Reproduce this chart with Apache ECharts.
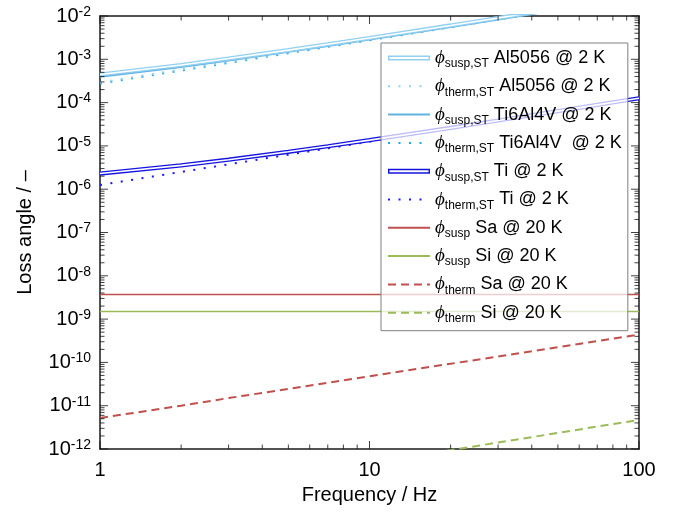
<!DOCTYPE html>
<html>
<head>
<meta charset="utf-8">
<script src="https://cdn.jsdelivr.net/npm/echarts@6/dist/echarts.min.js"></script>
<style>
  html, body { margin: 0; padding: 0; background: #ffffff; }
  #chart { width: 681px; height: 512px; }
</style>
</head>
<body>
<div id="chart"></div>
<script>
// Frequencies (Hz) at which every loss curve is sampled
const freq = [1, 2, 3, 5, 7, 10, 20, 30, 50, 70, 100];

// Suspension and thermoelastic loss angles of the suspension-thread metals at 2 K
const al5056Susp   = [4.45e-4, 7.4e-4, 1.04e-3, 1.63e-3, 2.22e-3, 3.1e-3, 6.05e-3, 9.0e-3, 1.49e-2, 2.08e-2, 2.97e-2];
const al5056Therm  = [2.9e-4, 5.8e-4, 8.7e-4, 1.45e-3, 2.03e-3, 2.9e-3, 5.8e-3, 8.7e-3, 1.45e-2, 2.03e-2, 2.9e-2];
const ti6al4vSusp  = [4.1e-4, 6.95e-4, 9.8e-4, 1.55e-3, 2.12e-3, 2.98e-3, 5.83e-3, 8.68e-3, 1.44e-2, 2.01e-2, 2.86e-2];
const ti6al4vTherm = [2.75e-4, 5.5e-4, 8.25e-4, 1.38e-3, 1.93e-3, 2.75e-3, 5.5e-3, 8.25e-3, 1.38e-2, 1.93e-2, 2.75e-2];
const tiSusp       = [2.3e-6, 3.55e-6, 4.8e-6, 7.3e-6, 9.8e-6, 1.36e-5, 2.6e-5, 3.85e-5, 6.35e-5, 8.85e-5, 1.26e-4];
const tiTherm      = [1.25e-6, 2.5e-6, 3.75e-6, 6.25e-6, 8.75e-6, 1.25e-5, 2.5e-5, 3.75e-5, 6.25e-5, 8.75e-5, 1.25e-4];

// Sapphire and silicon at 20 K
const saSusp  = [3.7e-9, 3.7e-9, 3.7e-9, 3.7e-9, 3.7e-9, 3.7e-9, 3.7e-9, 3.7e-9, 3.7e-9, 3.7e-9, 3.7e-9];
const siSusp  = [1.5e-9, 1.5e-9, 1.5e-9, 1.5e-9, 1.5e-9, 1.5e-9, 1.5e-9, 1.5e-9, 1.5e-9, 1.5e-9, 1.5e-9];
const saTherm = [5.2e-12, 1.0e-11, 1.5e-11, 2.45e-11, 3.4e-11, 4.8e-11, 9.3e-11, 1.37e-10, 2.25e-10, 3.1e-10, 4.4e-10];
const siTherm = [4.7e-14, 9.4e-14, 1.4e-13, 2.35e-13, 3.3e-13, 4.7e-13, 9.4e-13, 1.41e-12, 2.35e-12, 3.3e-12, 4.7e-12];

// Axis decades (exponents of ten) and their labels
const xDecades = [0, 1, 2];
const xTickLabels = ['1', '10', '100'];
const yDecades = [-12, -11, -10, -9, -8, -7, -6, -5, -4, -3, -2];
const yTickLabels = ['-12', '-11', '-10', '-9', '-8', '-7', '-6', '-5', '-4', '-3', '-2'];
const minorSteps = [2, 3, 4, 5, 6, 7, 8, 9];

// Legend entries: subscript and label
const legendSubs = ['susp,ST', 'therm,ST', 'susp,ST', 'therm,ST', 'susp,ST', 'therm,ST', 'susp', 'susp', 'therm', 'therm'];
const legendTexts = ['Al5056 @ 2 K', 'Al5056 @ 2 K', 'Ti6Al4V @ 2 K', 'Ti6Al4V  @ 2 K', 'Ti @ 2 K', 'Ti @ 2 K',
                     'Sa @ 20 K', 'Si @ 20 K', 'Sa @ 20 K', 'Si @ 20 K'];

// Tick values in data units: decades and the 2..9 steps inside each decade
function majorValues(decades) { return decades.map(d => Math.pow(10, d)); }
function minorValues(decades) {
  const out = [];
  for (let i = 0; i < decades.length - 1; i++) {
    minorSteps.forEach(m => out.push(m * Math.pow(10, decades[i])));
  }
  return out;
}
const X_MIN = Math.pow(10, xDecades[0]), X_MAX = Math.pow(10, xDecades[xDecades.length - 1]);
const Y_MIN = Math.pow(10, yDecades[0]), Y_MAX = Math.pow(10, yDecades[yDecades.length - 1]);

const AXIS_COLOR = '#1a1a1a';
const TICK_COLOR = '#111111';
const FONT = 'Liberation Sans, Arial, sans-serif';
const MAJOR_LEN = 8, MINOR_LEN = 4.5;

function pairs(vals) { return freq.map((f, i) => [f, vals[i]]); }
const names = legendSubs.map((s, i) => s + '|' + legendTexts[i]);

function lineSeries(name, vals, color, width, type) {
  return {
    name: name, type: 'line', xAxisIndex: 0, yAxisIndex: 0,
    data: pairs(vals), symbol: 'none', showSymbol: false, clip: true, silent: true,
    emphasis: { disabled: true }, z: 2,
    itemStyle: { color: color, borderWidth: 0 },
    lineStyle: { color: color, width: width, type: type || 'solid', cap: 'butt' }
  };
}

// Inward tick marks along one side of the frame, positioned through the log scales
function tickSeries(side, decades) {
  const items = [];
  const add = (v, len) => {
    let value, size, offset;
    if (side === 'bottom') { value = [v, Y_MIN]; size = [1, len]; offset = [0, -len / 2]; }
    else if (side === 'top') { value = [v, Y_MAX]; size = [1, len]; offset = [0, len / 2]; }
    else if (side === 'left') { value = [X_MIN, v]; size = [len, 1]; offset = [len / 2, 0]; }
    else { value = [X_MAX, v]; size = [len, 1]; offset = [-len / 2, 0]; }
    items.push({ value: value, symbolSize: size, symbolOffset: offset });
  };
  majorValues(decades).forEach(v => add(v, MAJOR_LEN));
  minorValues(decades).forEach(v => add(v, MINOR_LEN));
  return {
    type: 'scatter', xAxisIndex: 0, yAxisIndex: 0, silent: true, clip: false, z: 3,
    symbol: 'rect', itemStyle: { color: TICK_COLOR, borderWidth: 0 },
    emphasis: { disabled: true }, data: items
  };
}

const DOT = [2, 8.5];
const DASH = [8, 5];

const series = [
  lineSeries(names[6], saSusp, '#c0504d', 1.5),
  lineSeries(names[7], siSusp, '#9bbb59', 1.5),
  lineSeries(names[8], saTherm, '#c0504d', 2, DASH),
  lineSeries(names[9], siTherm, '#9bbb59', 2, DASH),
  lineSeries(names[5], tiTherm, '#1a1af5', 2, DOT),
  lineSeries(names[4], tiSusp, '#1515e0', 4.2),
  lineSeries('Ti core', tiSusp, '#ffffff', 1.6),
  lineSeries(names[3], ti6al4vTherm, '#1fa5ea', 2, DOT),
  lineSeries(names[1], al5056Therm, '#8ecff2', 2, DOT),
  lineSeries(names[2], ti6al4vSusp, '#63b3e3', 3.6),
  lineSeries(names[0], al5056Susp, '#92d0f0', 4.2),
  lineSeries('Al5056 core', al5056Susp, '#ffffff', 1.6),
  tickSeries('bottom', xDecades),
  tickSeries('top', xDecades),
  tickSeries('left', yDecades),
  tickSeries('right', yDecades)
];

// Hollow bar icon for the outlined curves
const RING = 'path://M0,0H42V5H0Z M1.5,1.5V3.5H40.5V1.5Z';
const legendData = names.map((n, i) => {
  const item = { name: n };
  if (i === 0 || i === 4) { item.icon = RING; item.itemStyle = { borderWidth: 0, opacity: 1 }; }
  return item;
});

function frameAxis(pos, dim, extra) {
  const isX = dim === 'x';
  const ax = {
    type: 'value', position: pos, gridIndex: 0,
    min: isX ? xDecades[0] : yDecades[0],
    max: isX ? xDecades[xDecades.length - 1] : yDecades[yDecades.length - 1],
    interval: 1, silent: true,
    axisLine: { show: true, onZero: false, lineStyle: { color: AXIS_COLOR, width: 1.5 } },
    axisTick: { show: false },
    axisLabel: { show: false },
    splitLine: { show: false }
  };
  return Object.assign(ax, extra || {});
}

const xAxes = [
  { type: 'log', min: X_MIN, max: X_MAX, logBase: 10, show: false, gridIndex: 0 },
  frameAxis('bottom', 'x', {
    axisLabel: {
      show: true, margin: 11, color: '#000', fontFamily: FONT, fontSize: 20,
      formatter: v => xTickLabels[xDecades.indexOf(Math.round(v))]
    },
    name: 'Frequency / Hz', nameLocation: 'middle', nameGap: 36,
    nameTextStyle: { color: '#000', fontFamily: FONT, fontSize: 20 }
  }),
  frameAxis('top', 'x')
];

const yAxes = [
  { type: 'log', min: Y_MIN, max: Y_MAX, logBase: 10, show: false, gridIndex: 0 },
  frameAxis('left', 'y', {
    axisLabel: {
      show: true, margin: 9, color: '#000',
      formatter: v => '{b|10}{e|' + yTickLabels[yDecades.indexOf(Math.round(v))] + '}',
      rich: {
        b: { fontFamily: FONT, fontSize: 20, color: '#000', lineHeight: 22 },
        e: { fontFamily: FONT, fontSize: 14, color: '#000', verticalAlign: 'top', lineHeight: 16 }
      }
    },
    name: 'Loss angle / \u2013', nameLocation: 'middle', nameGap: 65, nameRotate: 90,
    nameTextStyle: { color: '#000', fontFamily: FONT, fontSize: 20 }
  }),
  frameAxis('right', 'y')
];

const chart = echarts.init(document.getElementById('chart'), null, { renderer: 'canvas' });
chart.setOption({
  animation: false,
  backgroundColor: '#ffffff',
  grid: { left: 100, right: 42, top: 16, bottom: 63, outerBoundsMode: 'none', containLabel: false },
  xAxis: xAxes,
  yAxis: yAxes,
  legend: {
    orient: 'vertical', left: 381, top: 43,
    padding: [3, 6, 6, 6], itemGap: 4.3, itemWidth: 42, itemHeight: 5,
    backgroundColor: 'rgba(255,255,255,0.72)', borderColor: '#808080', borderWidth: 1, borderRadius: 0,
    symbolKeepAspect: false, selectedMode: false,
    itemStyle: { opacity: 0 },
    data: legendData,
    formatter: n => {
      const parts = n.split('|');
      return '{p|\u03d5}{s|' + parts[0] + '} ' + parts[1];
    },
    textStyle: {
      fontFamily: FONT, fontSize: 18, color: '#000', lineHeight: 24,
      rich: {
        p: { fontFamily: 'Liberation Serif, DejaVu Serif, serif', fontStyle: 'italic', fontSize: 19, color: '#000', lineHeight: 24 },
        s: { fontFamily: FONT, fontSize: 12, color: '#000', verticalAlign: 'bottom', lineHeight: 14 }
      }
    }
  },
  series: series
});
</script>
</body>
</html>
